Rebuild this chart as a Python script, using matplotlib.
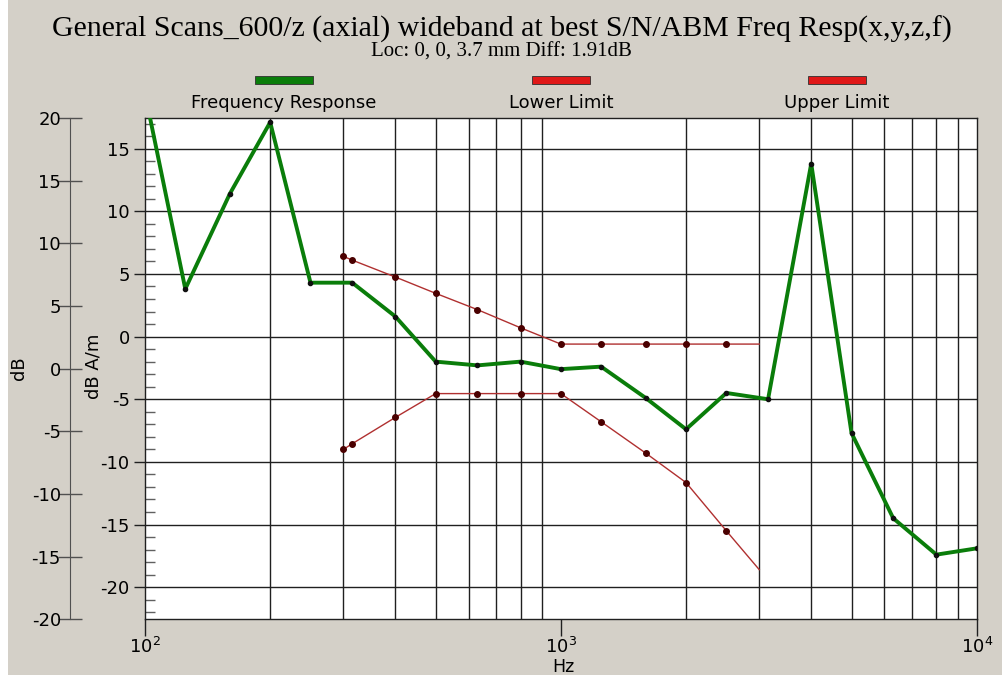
import matplotlib.pyplot as plt
from matplotlib.patches import Rectangle
from matplotlib.ticker import FixedLocator, NullFormatter

plt.rcParams["axes.unicode_minus"] = False

# Frequency response (Hz, dB A/m)
freq = [100, 125, 160, 200, 250, 315, 400, 500, 630, 800, 1000, 1250,
        1600, 2000, 2500, 3150, 4000, 5000, 6300, 8000, 10000]
resp = [19.4, 3.8, 11.4, 17.1, 4.3, 4.3, 1.6, -2.0, -2.3, -2.0, -2.6, -2.4,
        -4.9, -7.4, -4.5, -5.0, 13.8, -7.7, -14.5, -17.4, -16.9]

# Limits
lim_freq = [300, 315, 400, 500, 630, 800, 1000, 1250, 1600, 2000, 2500, 3000]
upper = [6.4, 6.1, 4.75, 3.45, 2.15, 0.7, -0.6, -0.6, -0.6, -0.6, -0.6, -0.6]
lower = [-9.0, -8.55, -6.45, -4.55, -4.55, -4.55, -4.55, -6.8, -9.3, -11.65, -15.5, -18.6]

inner_ticks = [-20, -15, -10, -5, 0, 5, 10, 15]
outer_ticks = [-20, -15, -10, -5, 0, 5, 10, 15, 20]
grid_freqs = [200, 300, 400, 500, 600, 700, 800, 900,
              2000, 3000, 4000, 5000, 6000, 7000, 8000, 9000]

bg = "#d4d0c8"
fig = plt.figure(figsize=(10.03, 6.75), dpi=100)
fig.patch.set_facecolor(bg)
fig.patches.append(Rectangle((0, 0), 8 / 1003, 1, transform=fig.transFigure,
                             facecolor="white", edgecolor="none"))

W, H = 1003, 675
left, right, top, bottom = 145, 976.7, 118, 619.3
ax = fig.add_axes([left / W, 1 - bottom / H, (right - left) / W, (bottom - top) / H])
ax.set_facecolor("white")
ax.set_xscale("log")
ax.set_xlim(100, 10000)
ax.set_ylim(-22.56, 17.44)

# grid
for f in grid_freqs:
    ax.axvline(f, color="#202020", lw=1, zorder=1)
for v in inner_ticks:
    ax.axhline(v, color="#202020", lw=1, zorder=1)

lim_color = "#b03030"
ax.plot(lim_freq, upper, color=lim_color, lw=1, zorder=2)
ax.plot(lim_freq[:-1], upper[:-1], "o", color="#4a0000", ms=4, zorder=3)
ax.plot(lim_freq, lower, color=lim_color, lw=1, zorder=2)
ax.plot(lim_freq[:-1], lower[:-1], "o", color="#4a0000", ms=4, zorder=3)

ax.plot(freq, resp, color="#0a7d0a", lw=2.8, zorder=4)
ax.plot(freq, resp, "o", color="#101010", ms=3, zorder=5)

for s in ax.spines.values():
    s.set_color("#202020")
    s.set_linewidth(1)

ax.xaxis.set_major_locator(FixedLocator([100, 1000, 10000]))
ax.xaxis.set_minor_locator(FixedLocator([]))
ax.set_xticklabels(["$10^2$", "$10^3$", "$10^4$"])
ax.tick_params(axis="x", which="major", direction="out", length=12, width=1,
               labelsize=13, pad=1, color="#202020")
fig.text(563 / W, 1 - 667 / H, "Hz", ha="center", va="center", fontsize=12.5)

ax.yaxis.set_major_locator(FixedLocator(inner_ticks))
ax.yaxis.set_minor_locator(FixedLocator(range(-22, 18)))
ax.yaxis.set_minor_formatter(NullFormatter())
ax.tick_params(axis="y", which="major", direction="out", length=8, width=1,
               labelsize=13, pad=3, color="#202020")
ax.tick_params(axis="y", which="minor", direction="in", length=7, width=1,
               color="#606060")
fig.text(93 / W, 1 - 366 / H, "dB A/m", ha="center", va="center",
         rotation=90, fontsize=13)

# outer dB axis
ax2 = fig.add_axes([70 / W, 1 - bottom / H, 0.0001, (bottom - top) / H])
ax2.set_ylim(-20, 20)
ax2.patch.set_visible(False)
for k in ["top", "right", "bottom"]:
    ax2.spines[k].set_visible(False)
ax2.spines["left"].set_color("#505050")
ax2.set_xticks([])
ax2.yaxis.set_major_locator(FixedLocator(outer_ticks))
ax2.tick_params(axis="y", direction="inout", length=17, width=1,
                labelsize=13, pad=-2, color="#505050")
fig.text(19 / W, 1 - 368 / H, "dB", ha="center", va="center",
         rotation=90, fontsize=13)

# title
fig.text(0.5, 1 - 29 / H, "General Scans_600/z (axial) wideband at best S/N/ABM Freq Resp(x,y,z,f)",
         ha="center", va="center", fontsize=21.5, family="Liberation Serif")
fig.text(0.5, 1 - 52 / H, "Loc: 0, 0, 3.7 mm Diff: 1.91dB",
         ha="center", va="center", fontsize=15, family="Liberation Serif")

# legend
items = [("Frequency Response", "#0a7d0a", 284), ("Lower Limit", "#e01818", 561),
         ("Upper Limit", "#e01818", 837)]
for label, col, cx in items:
    fig.patches.append(Rectangle(((cx - 29) / W, 1 - 84 / H), 58 / W, 8 / H,
                                 transform=fig.transFigure, facecolor=col,
                                 edgecolor="#303030", lw=0.6))
    fig.text(cx / W, 1 - 103 / H, label, ha="center", va="center", fontsize=13)

fig.savefig("out.png", dpi=100, facecolor=bg)
